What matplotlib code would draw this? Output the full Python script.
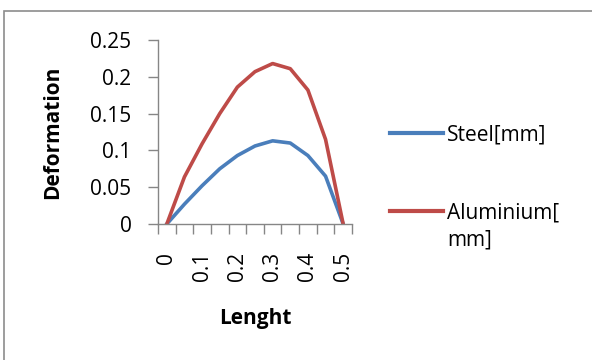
import matplotlib
matplotlib.use("Agg")
import matplotlib.pyplot as plt
from matplotlib.patches import Rectangle
import numpy as np

plt.rcParams['font.family'] = ['Open Sans', 'DejaVu Sans']

categories = ["0", "0.05", "0.1", "0.15", "0.2", "0.25", "0.3", "0.35", "0.4", "0.45", "0.5"]
steel = [0, 0.027, 0.052, 0.075, 0.093, 0.106, 0.113, 0.110, 0.093, 0.065, 0]
aluminium = [0, 0.064, 0.109, 0.150, 0.186, 0.207, 0.218, 0.211, 0.182, 0.115, 0]
series_names = ["Steel[mm]", "Aluminium[mm]"]
legend_lines = [["Steel[mm]"], ["Aluminium[", "mm]"]]
colors = ["#4A7EBB", "#BE4B48"]
y_ticks = [0, 0.05, 0.1, 0.15, 0.2, 0.25]
y_tick_labels = ["0", "0.05", "0.1", "0.15", "0.2", "0.25"]

W, H = 592, 360
FS = 15
fig = plt.figure(figsize=(W / 100, H / 100), dpi=100)
fig.patch.set_facecolor("white")

# outer chart border
fig.patches.append(Rectangle((4 / W, -0.1), 1.2, (H - 10.5) / H + 0.1,
                             transform=fig.transFigure, fill=False,
                             edgecolor="#8c8c8c", linewidth=1.2))

ax = fig.add_axes([158 / W, (H - 224) / H, 194 / W, 184 / H])
x = np.arange(len(categories))
handles = []
for vals, name, c in zip([steel, aluminium], series_names, colors):
    h, = ax.plot(x, vals, color=c, linewidth=2.6, label=name, solid_joinstyle="round")
    handles.append(h)

ax.set_xlim(-0.5, len(categories) - 0.5)
ax.set_ylim(0, 0.25)
ax.set_yticks(y_ticks)
ax.set_yticklabels(y_tick_labels)

# category boundary ticks (no labels), labels at every second category
ax.set_xticks(np.arange(-0.5, len(categories), 1.0))
ax.set_xticklabels([])
ax.set_xticks(x[::2], minor=True)
ax.set_xticklabels(categories[::2], minor=True, rotation=90, va="top", ha="center")
ax.tick_params(axis="x", which="major", length=7, color="#868686", width=1)
ax.tick_params(axis="x", which="minor", length=0, pad=20, labelsize=FS, colors="black")
ax.tick_params(axis="y", which="major", length=7, color="#868686", width=1, pad=12, labelsize=FS)

for s in ["top", "right"]:
    ax.spines[s].set_visible(False)
for s in ["left", "bottom"]:
    ax.spines[s].set_color("#868686")
    ax.spines[s].set_linewidth(1)

ax.set_xlabel("Lenght", fontsize=FS, fontweight="bold")
ax.xaxis.set_label_coords(0.5, -0.455)
ax.set_ylabel("Deformation", fontsize=FS, fontweight="bold")
ax.yaxis.set_label_coords(-0.49, 0.5)

leg = fig.legend(handles, [l[0] for l in legend_lines], loc="upper left",
                 bbox_to_anchor=(390 / W, 1 - 124 / H),
                 frameon=False, fontsize=FS, handlelength=2.55, handletextpad=0.2,
                 labelspacing=2.74, borderaxespad=0, borderpad=0)
for line in leg.get_lines():
    line.set_linewidth(3)

# continuation lines of wrapped legend labels
fig.canvas.draw()
inv = fig.transFigure.inverted()
for t, lines in zip(leg.get_texts(), legend_lines):
    bb = t.get_window_extent()
    for k, extra in enumerate(lines[1:], start=1):
        xf, yf = inv.transform((bb.x0, bb.y0 - 27 * k))
        fig.text(xf, yf, extra, fontsize=FS, ha="left", va="bottom")

fig.savefig("out.png", dpi=100, facecolor="white")
